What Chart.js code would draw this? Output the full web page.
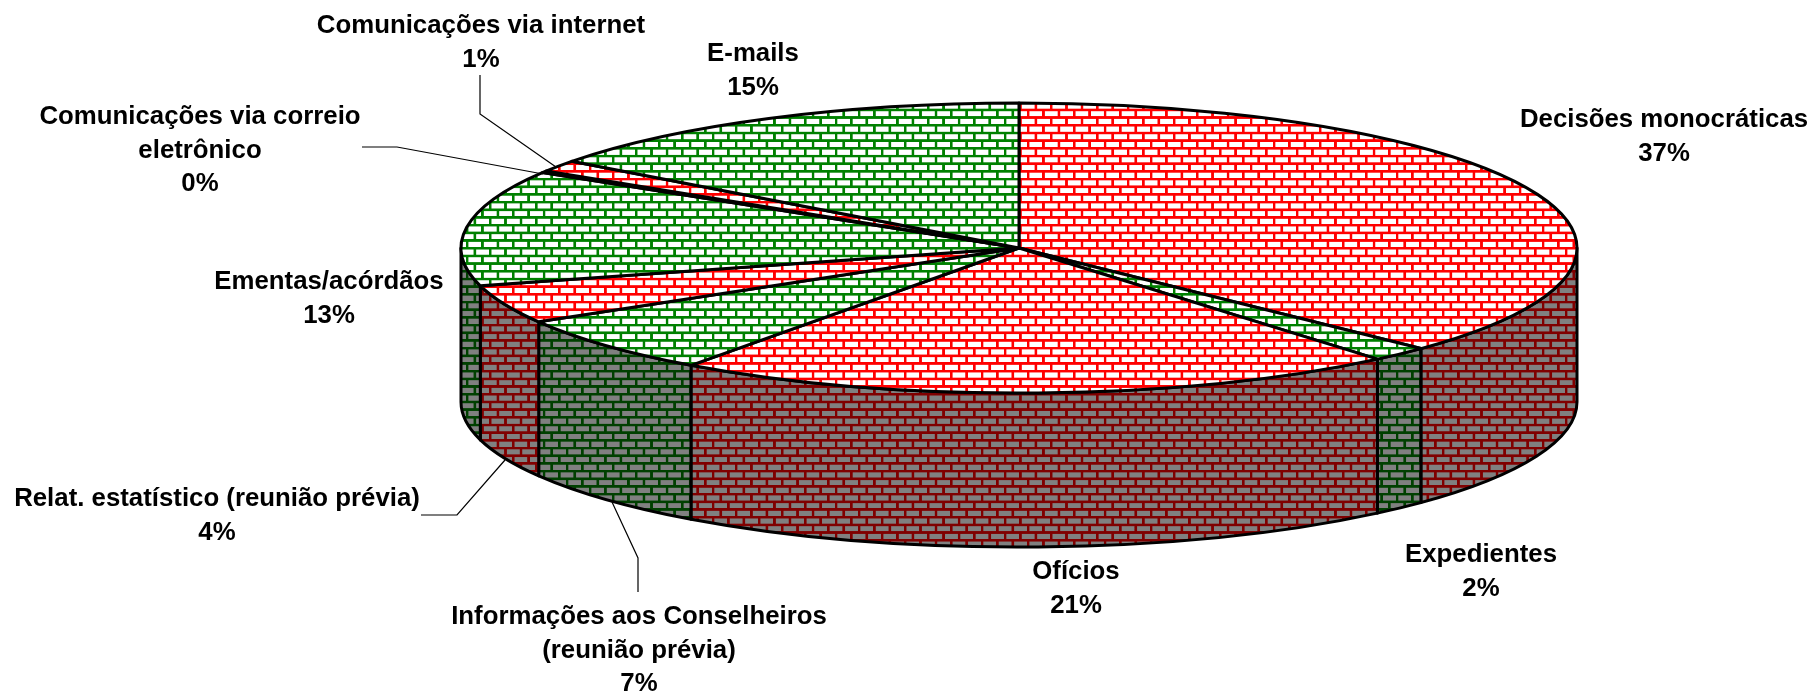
<!DOCTYPE html>
<html>
<head>
<meta charset="utf-8">
<title>Pie</title>
<script src="https://cdn.jsdelivr.net/npm/chart.js@4/dist/chart.umd.js"></script>
<style>
  html, body { margin: 0; padding: 0; background: #fff; }
  #chart-wrap { width: 1813px; height: 694px; }
</style>
</head>
<body>
<div id="chart-wrap"><canvas id="chart-pie" width="1813" height="694"></canvas></div>
<script>
const categories = [
  'Decisões monocráticas', 'Expedientes', 'Ofícios',
  'Informações aos Conselheiros (reunião prévia)', 'Relat. estatístico (reunião prévia)',
  'Ementas/acórdãos', 'Comunicações via correio eletrônico',
  'Comunicações via internet', 'E-mails'
];
const shares = [37.2, 1.7, 21.1, 6.5, 4.3, 12.9, 0.2, 1.3, 14.8];
const shareLabels = ['37%', '2%', '21%', '7%', '4%', '13%', '0%', '1%', '15%'];

const topColors = ['#ff0000', '#008000', '#ff0000', '#008000', '#ff0000', '#008000', '#ff0000', '#ff0000', '#008000'];
const wallColors = ['#800000', '#004000', '#800000', '#004000', '#800000', '#004000', '#800000', '#800000', '#004000'];

// where each label goes: category lines, centre x, first baseline
const labelLayout = [
  { lines: ['Decisões monocráticas'], x: 1664, y: 127 },
  { lines: ['Expedientes'], x: 1481, y: 562 },
  { lines: ['Ofícios'], x: 1076, y: 579 },
  { lines: ['Informações aos Conselheiros', '(reunião prévia)'], x: 639, y: 624 },
  { lines: ['Relat. estatístico (reunião prévia)'], x: 217, y: 506 },
  { lines: ['Ementas/acórdãos'], x: 329, y: 289 },
  { lines: ['Comunicações via correio', 'eletrônico'], x: 200, y: 124 },
  { lines: ['Comunicações via internet'], x: 481, y: 33 },
  { lines: ['E-mails'], x: 753, y: 61 }
];
const leaderLines = [
  [[480, 75], [480, 114], [556, 167]],
  [[362, 147], [397, 147], [543, 174]],
  [[421, 515], [457, 515], [505, 460]],
  [[638, 592], [638, 558], [612, 502]]
];

const TILT = 145 / 558;
const DEPTH = 154;
const LINE_HEIGHT = 33.7;

function brickPattern(ctx, line, fill) {
  const tile = document.createElement('canvas');
  tile.width = 32;
  tile.height = 32;
  const t = tile.getContext('2d');
  t.fillStyle = fill;
  t.fillRect(0, 0, 32, 32);
  t.fillStyle = line;
  t.fillRect(0, 0, 32, 5.4);
  t.fillRect(0, 16, 32, 5.4);
  t.fillRect(0, 0, 5.4, 16);
  t.fillRect(16, 16, 5.4, 16);
  const p = ctx.createPattern(tile, 'repeat');
  p.setTransform(new DOMMatrix().translate(1103.7, 154.7).scale(15.37 / 32, 15.37 / 32));
  return p;
}

const pie3d = {
  id: 'pie3d',
  beforeDatasetDraw(chart) {
    const ctx = chart.ctx;
    const arcs = chart.getDatasetMeta(0).data;

    ctx.save();
    ctx.lineJoin = 'round';
    ctx.strokeStyle = '#000';
    ctx.lineWidth = 3;

    // side walls first, only the part of each slice facing the viewer
    arcs.forEach((arc, i) => {
      const { x, y, startAngle, endAngle, outerRadius } = arc.getProps(['x', 'y', 'startAngle', 'endAngle', 'outerRadius']);
      const ry = outerRadius * TILT;
      const a0 = Math.max(startAngle, 0);
      const a1 = Math.min(endAngle, Math.PI);
      if (a1 <= a0) return;
      ctx.beginPath();
      ctx.ellipse(x, y, outerRadius, ry, 0, a0, a1);
      ctx.ellipse(x, y + DEPTH, outerRadius, ry, 0, a1, a0, true);
      ctx.closePath();
      ctx.fillStyle = brickPattern(ctx, wallColors[i], '#808080');
      ctx.fill();
      ctx.stroke();
    });

    // top faces
    arcs.forEach((arc, i) => {
      const { x, y, startAngle, endAngle, outerRadius } = arc.getProps(['x', 'y', 'startAngle', 'endAngle', 'outerRadius']);
      ctx.beginPath();
      ctx.moveTo(x, y);
      ctx.ellipse(x, y, outerRadius, outerRadius * TILT, 0, startAngle, endAngle);
      ctx.closePath();
      ctx.fillStyle = brickPattern(ctx, topColors[i], '#ffffff');
      ctx.fill();
      ctx.stroke();
    });
    ctx.restore();
    return false;
  },
  afterDraw(chart) {
    const ctx = chart.ctx;
    ctx.save();
    ctx.strokeStyle = '#000';
    ctx.lineWidth = 1.2;
    leaderLines.forEach(pts => {
      ctx.beginPath();
      pts.forEach((p, i) => i ? ctx.lineTo(p[0], p[1]) : ctx.moveTo(p[0], p[1]));
      ctx.stroke();
    });

    ctx.fillStyle = '#000';
    ctx.font = 'bold 25.8px "Liberation Sans"';
    ctx.textAlign = 'center';
    labelLayout.forEach((lab, i) => {
      lab.lines.concat(shareLabels[i]).forEach((txt, n) => {
        ctx.fillText(txt, lab.x, lab.y + n * LINE_HEIGHT);
      });
    });
    ctx.restore();
  }
};

window.addEventListener('DOMContentLoaded', function () {
  new Chart(document.getElementById('chart-pie'), {
    type: 'pie',
    data: {
      labels: categories,
      datasets: [{ data: shares, radius: 558 }]
    },
    options: {
      responsive: false,
      animation: false,
      layout: { padding: { left: 225, right: 0, top: 0, bottom: 198 } },
      plugins: {
        legend: { display: false },
        tooltip: { enabled: false }
      }
    },
    plugins: [pie3d]
  });
});
</script>
</body>
</html>
